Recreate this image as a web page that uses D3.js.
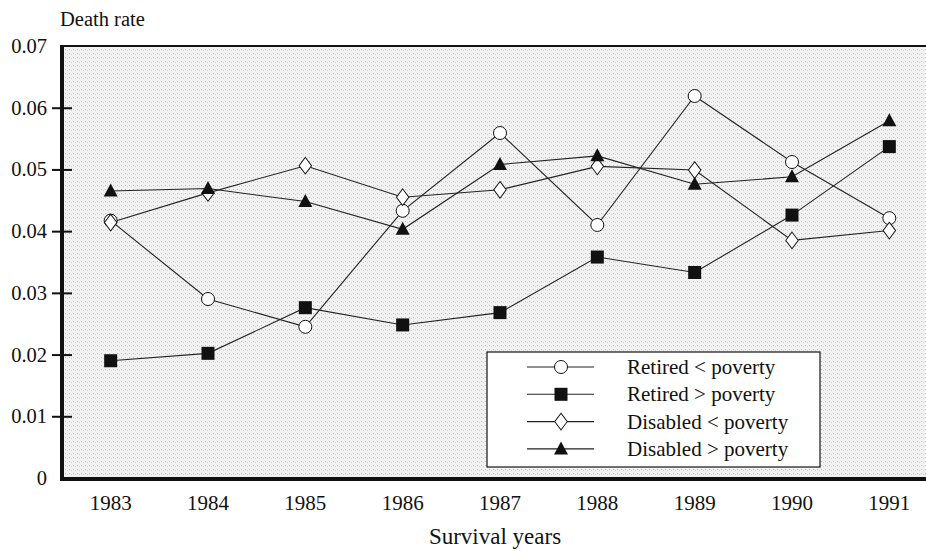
<!DOCTYPE html>
<html>
<head>
<meta charset="utf-8">
<script src="https://cdn.jsdelivr.net/npm/d3@7"></script>
<style>
  body { margin: 0; background: #fff; }
  svg text { font-family: "Liberation Serif", "Times New Roman", serif; fill: #111; }
</style>
</head>
<body>
<svg width="926" height="551"></svg>
<script>
// values
var years = ["1983", "1984", "1985", "1986", "1987", "1988", "1989", "1990", "1991"];
var retiredBelow = [0.0417, 0.0290, 0.0245, 0.0433, 0.0559, 0.0410, 0.0619, 0.0512, 0.0421];
var retiredAbove = [0.0190, 0.0202, 0.0276, 0.0248, 0.0268, 0.0358, 0.0333, 0.0426, 0.0537];
var disabledBelow = [0.0414, 0.0462, 0.0506, 0.0455, 0.0467, 0.0505, 0.0499, 0.0385, 0.0401];
var disabledAbove = [0.0465, 0.0469, 0.0448, 0.0403, 0.0508, 0.0522, 0.0476, 0.0488, 0.0579];
var yTicks = [0, 0.01, 0.02, 0.03, 0.04, 0.05, 0.06, 0.07];

var series = [
  {name: "Retired < poverty", values: retiredBelow, shape: "circle"},
  {name: "Retired > poverty", values: retiredAbove, shape: "square"},
  {name: "Disabled < poverty", values: disabledBelow, shape: "diamond"},
  {name: "Disabled > poverty", values: disabledAbove, shape: "triangle"}
];

var mLeft = 62, mTop = 46, mRight = 938, mBottom = 478;
var serif = "Liberation Serif, Times New Roman, serif";
var svg = d3.select("svg");

var x = d3.scaleBand().domain(years).range([mLeft, mRight]);
var y = d3.scaleLinear().domain([0, 0.07]).range([mBottom, mTop]);
var cx = d => x(d) + x.bandwidth() / 2;

// stippled grey background
var defs = svg.append("defs");
var pat = defs.append("pattern").attr("id", "dots")
  .attr("width", 4).attr("height", 4).attr("patternUnits", "userSpaceOnUse");
pat.append("rect").attr("width", 4).attr("height", 4).attr("fill", "#f2f2f2");
pat.append("rect").attr("x", 1).attr("y", 1).attr("width", 1).attr("height", 1).attr("fill", "#bbbbbb");
pat.append("rect").attr("x", 3).attr("y", 2).attr("width", 1).attr("height", 1).attr("fill", "#d2d2d2");

svg.append("rect").attr("x", mLeft).attr("y", mTop)
  .attr("width", 926 - mLeft).attr("height", mBottom - mTop)
  .attr("fill", "url(#dots)");

// frame: thin top line
svg.append("line").attr("x1", mLeft).attr("x2", 926).attr("y1", mTop).attr("y2", mTop)
  .attr("stroke", "#111").attr("stroke-width", 2);

// y axis
var yAxis = d3.axisLeft(y).tickValues(yTicks)
  .tickFormat(d => d === 0 ? "0" : d3.format(".2f")(d))
  .tickSize(0).tickPadding(15);
var gy = svg.append("g").attr("transform", "translate(" + mLeft + ",0)").call(yAxis)
  .attr("font-family", serif).attr("font-size", 20.5);
gy.select(".domain").remove();
gy.selectAll("text").attr("fill", "#111");
gy.selectAll(".tick").filter(d => d > 0 && d < 0.07).append("line")
  .attr("x1", -10).attr("x2", 10).attr("stroke", "#111").attr("stroke-width", 2);
svg.append("line").attr("x1", mLeft).attr("x2", mLeft).attr("y1", mTop - 1).attr("y2", mBottom)
  .attr("stroke", "#111").attr("stroke-width", 4);

// x axis
var xAxis = d3.axisBottom(x).tickSize(0).tickPadding(17);
var gx = svg.append("g").attr("transform", "translate(0," + mBottom + ")").call(xAxis)
  .attr("font-family", serif).attr("font-size", 21);
gx.select(".domain").remove();
gx.selectAll("text").attr("fill", "#111");
svg.append("line").attr("x1", mLeft - 2).attr("x2", 926).attr("y1", mBottom + 1).attr("y2", mBottom + 1)
  .attr("stroke", "#111").attr("stroke-width", 4);

// titles
svg.append("text").attr("x", 60).attr("y", 26).attr("font-size", 20.5).text("Death rate");
svg.append("text").attr("x", 495).attr("y", 544).attr("text-anchor", "middle")
  .attr("font-size", 23).text("Survival years");

// markers
function marker(g, shape, px, py) {
  if (shape === "circle") {
    g.append("circle").attr("cx", px).attr("cy", py).attr("r", 6.5)
      .attr("fill", "#fff").attr("stroke", "#111").attr("stroke-width", 1);
  } else if (shape === "square") {
    g.append("rect").attr("x", px - 6.5).attr("y", py - 6.5).attr("width", 13).attr("height", 13)
      .attr("fill", "#111");
  } else if (shape === "diamond") {
    g.append("path").attr("d", d3.symbol(d3.symbolDiamond, 80)())
      .attr("transform", "translate(" + px + "," + py + ") scale(1.3,1)")
      .attr("fill", "#fff").attr("stroke", "#111").attr("stroke-width", 0.8);
  } else {
    g.append("path").attr("d", "M0,-7.5L7,5.5L-7,5.5Z")
      .attr("transform", "translate(" + px + "," + py + ")")
      .attr("fill", "#111");
  }
}

var line = d3.line().x((d, i) => cx(years[i])).y(d => y(d));

series.forEach(function(s) {
  svg.append("path").datum(s.values).attr("d", line)
    .attr("fill", "none").attr("stroke", "#222").attr("stroke-width", 1.1);
});
series.forEach(function(s) {
  var g = svg.append("g");
  s.values.forEach(function(v, i) { marker(g, s.shape, cx(years[i]), y(v)); });
});

// legend
var lg = svg.append("g");
lg.append("rect").attr("x", 487).attr("y", 352).attr("width", 333).attr("height", 115)
  .attr("fill", "#fff").attr("stroke", "#111").attr("stroke-width", 1.2);
series.forEach(function(s, i) {
  var ly = 367 + i * 27.3;
  lg.append("line").attr("x1", 527).attr("x2", 594).attr("y1", ly).attr("y2", ly)
    .attr("stroke", "#222").attr("stroke-width", 1.1);
  marker(lg, s.shape, 561, ly);
  lg.append("text").attr("x", 627).attr("y", ly + 7).attr("font-size", 21).text(s.name);
});
</script>
</body>
</html>
